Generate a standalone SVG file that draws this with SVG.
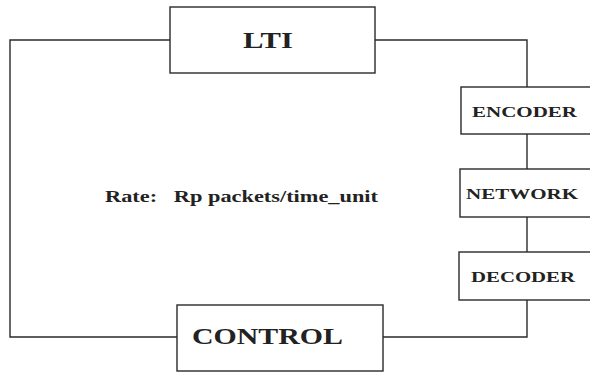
<svg xmlns="http://www.w3.org/2000/svg" width="590" height="375" viewBox="0 0 590 375">
<style>
.box{fill:#fff;stroke:#2a2a2a;stroke-width:1.4}
.wire{fill:none;stroke:#2a2a2a;stroke-width:1.4}
.lbl{font-family:"Liberation Serif","Times New Roman",serif;font-weight:bold;fill:#222}
</style>
<rect width="590" height="375" fill="#fff"/>
<g id="connectors">
<polyline class="wire" points="170,40 10,40 10,337 177,337"/>
<polyline class="wire" points="375,40 527,40 527,87"/>
<line class="wire" x1="527" y1="134" x2="527" y2="169"/>
<line class="wire" x1="527" y1="217" x2="527" y2="252"/>
<polyline class="wire" points="527,300 527,337 383,337"/>
</g>
<g id="lti">
<rect class="box" x="170" y="7" width="205" height="66"/>
<text class="lbl" x="243" y="48" font-size="22.5" textLength="50" lengthAdjust="spacingAndGlyphs">LTI</text>
</g>
<g id="encoder">
<rect class="box" x="461" y="87" width="140" height="47"/>
<text class="lbl" x="472" y="117" font-size="15" textLength="105" lengthAdjust="spacingAndGlyphs">ENCODER</text>
</g>
<g id="network">
<rect class="box" x="460" y="169" width="140" height="48"/>
<text class="lbl" x="466" y="199" font-size="15" textLength="112" lengthAdjust="spacingAndGlyphs">NETWORK</text>
</g>
<g id="decoder">
<rect class="box" x="459" y="252" width="140" height="48"/>
<text class="lbl" x="471" y="282" font-size="15" textLength="104" lengthAdjust="spacingAndGlyphs">DECODER</text>
</g>
<g id="control">
<rect class="box" x="177" y="305" width="206" height="66"/>
<text class="lbl" x="192" y="344" font-size="22.5" textLength="151" lengthAdjust="spacingAndGlyphs">CONTROL</text>
</g>
<g id="rate">
<text class="lbl" x="105" y="202" font-size="17.5" textLength="273" lengthAdjust="spacingAndGlyphs" xml:space="preserve">Rate:   Rp packets/time_unit</text>
</g>
</svg>
